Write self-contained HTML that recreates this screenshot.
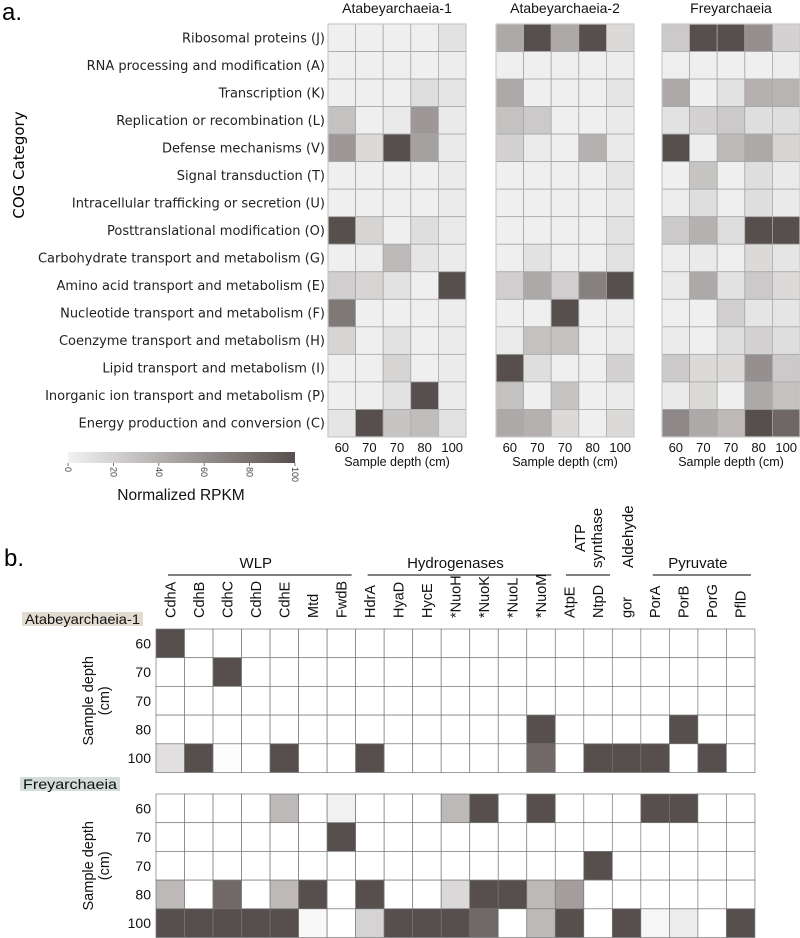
<!DOCTYPE html>
<html><head><meta charset="utf-8">
<style>
html,body{margin:0;padding:0;background:#fff;}
svg{display:block;font-family:"Liberation Sans",sans-serif;}
</style></head>
<body>
<svg id="fig" width="800" height="938" viewBox="0 0 800 938" xmlns="http://www.w3.org/2000/svg">
<text x="2" y="20" font-size="24">a.</text>
<text x="4" y="566" font-size="24">b.</text>
<text transform="translate(24,165) rotate(-90)" text-anchor="middle" font-size="15" font-family="DejaVu Sans, sans-serif">COG Category</text>
<g id="topg"></g>
<g id="cbar"></g>
<g id="bottom"></g>
</svg>
<script>
const categories = ["Ribosomal proteins (J)","RNA processing and modification (A)","Transcription (K)","Replication or recombination (L)","Defense mechanisms (V)","Signal transduction (T)","Intracellular trafficking or secretion (U)","Posttranslational modification (O)","Carbohydrate transport and metabolism (G)","Amino acid transport and metabolism (E)","Nucleotide transport and metabolism (F)","Coenzyme transport and metabolism (H)","Lipid transport and metabolism (I)","Inorganic ion transport and metabolism (P)","Energy production and conversion (C)"];
const depths = ["60","70","70","80","100"];
const genomes = ["Atabeyarchaeia-1","Atabeyarchaeia-2","Freyarchaeia"];
const atabey1 = [[2,2,2,2,10],[2,2,2,2,3],[2,2,2,12,8],[30,2,5,55,5],[55,15,100,50,5],[2,2,2,2,4],[2,2,2,2,4],[100,18,2,12,5],[2,3,35,8,4],[22,18,10,2,100],[75,2,2,2,3],[18,2,10,2,4],[2,2,18,2,4],[2,2,10,100,4],[8,100,28,32,10]];
const atabey2 = [[45,100,45,100,15],[2,2,2,2,3],[45,2,2,2,8],[30,25,2,2,5],[20,4,2,40,5],[2,2,2,2,8],[2,2,2,2,5],[2,2,2,2,10],[2,10,2,2,10],[22,45,22,70,100],[2,2,100,2,3],[4,30,30,2,4],[100,12,2,2,20],[30,2,28,2,4],[45,40,15,2,15]];
const freya = [[25,100,100,60,20],[2,2,2,2,3],[45,2,10,40,38],[10,20,25,12,12],[100,3,35,45,18],[2,28,2,12,5],[3,12,2,12,5],[25,40,12,100,100],[3,5,2,15,8],[5,45,10,25,15],[2,2,22,8,8],[4,2,12,20,12],[25,15,15,60,25],[5,15,2,45,30],[65,45,35,100,85]];
const colorTicks = [0,20,40,60,80,100];
const genes = ["CdhA","CdhB","CdhC","CdhD","CdhE","Mtd","FwdB","HdrA","HyaD","HycE","*NuoH","*NuoK","*NuoL","*NuoM","AtpE","NtpD","gor","PorA","PorB","PorG","PflD"];
const geneDepths = ["60","70","70","80","100"];
const atabeyGenes = [
 [100,0,0,0,0,0,0,0,0,0,0,0,0,0,0,0,0,0,0,0,0],
 [0,0,100,0,0,0,0,0,0,0,0,0,0,0,0,0,0,0,0,0,0],
 [0,0,0,0,0,0,0,0,0,0,0,0,0,0,0,0,0,0,0,0,0],
 [0,0,0,0,0,0,0,0,0,0,0,0,0,100,0,0,0,0,100,0,0],
 [18,100,1,0,100,0,0,100,0,0,0,0,0,85,0,100,100,100,0,100,0]];
const freyaGenes = [
 [0,0,0,0,40,0,8,0,0,0,40,100,0,100,0,0,0,100,100,0,0],
 [0,0,0,0,0,0,100,0,0,0,0,0,0,0,0,0,0,0,0,0,0],
 [0,0,0,0,0,0,0,0,0,0,0,0,0,0,0,100,0,0,0,0,0],
 [40,0,85,0,40,100,0,100,0,0,22,100,100,40,55,0,0,0,0,0,0],
 [100,100,100,100,100,4,0,25,100,100,100,85,0,40,100,0,100,5,10,0,100]];
const groups = [["WLP",0,6],["Hydrogenases",7,13],["Pyruvate",17,20]];

const NS="http://www.w3.org/2000/svg";
function mk(tag, attrs, parent, txt){const e=document.createElementNS(NS,tag);for(const k in attrs)e.setAttribute(k,attrs[k]);if(txt!==undefined)e.textContent=txt;parent.appendChild(e);return e;}
function lerp(a,b,t){return Math.round(a+(b-a)*t);}
function colTop(v){const t=Math.max(0,Math.min(1,v/100));return `rgb(${lerp(242,87,t)},${lerp(242,79,t)},${lerp(242,77,t)})`;}
function colBot(v){const t=Math.max(0,Math.min(1,v/100));return `rgb(${lerp(255,87,t)},${lerp(255,79,t)},${lerp(255,77,t)})`;}

// ---- Panel a
const topG=document.getElementById('topg');
const hmX=[328,496,662], hmW=138, hmY=24, rowH=27.53, colW=hmW/5;
const topData=[atabey1,atabey2,freya];
const yRow=i=>hmY+i*rowH;
categories.forEach((c,i)=>{
  const t=mk('text',{x:325,y:yRow(i)+rowH/2+4.5,'text-anchor':'end','font-size':13,'font-family':'DejaVu Sans, sans-serif',fill:'#222'},topG,c);
  
  
});
genomes.forEach((g,gi)=>{
  const x0=hmX[gi];
  const xCol=j=>x0+j*colW;
  const title=mk('text',{x:x0+hmW/2,y:13,'text-anchor':'middle','font-size':14,fill:'#111'},topG,g);
  
  
  topData[gi].forEach((row,i)=>row.forEach((v,j)=>{
    const r=mk('rect',{x:xCol(j),y:yRow(i),width:colW,height:rowH,fill:colTop(v),stroke:'#a8a8a8','stroke-width':0.8},topG);
    
    
  }));
  mk('rect',{x:x0,y:hmY,width:hmW,height:rowH*15,fill:'none',stroke:'#c8c8c8','stroke-width':1.2},topG);
  depths.forEach((d,j)=>{
    const t=mk('text',{x:xCol(j)+colW/2,y:452,'text-anchor':'middle','font-size':13,fill:'#111'},topG,d);
    
    
  });
  const xt=mk('text',{x:x0+hmW/2,y:466,'text-anchor':'middle','font-size':12.5,fill:'#111'},topG,'Sample depth (cm)');
  
  
});

// ---- colorbar
const cb=document.getElementById('cbar');
const defs=mk('defs',{},cb);
const lg=mk('linearGradient',{id:'cg',x1:0,x2:1,y1:0,y2:0},defs);
mk('stop',{offset:0,'stop-color':colTop(0)},lg);
mk('stop',{offset:1,'stop-color':colTop(100)},lg);
const cbX0=68,cbX1=295;
const cbr=mk('rect',{x:cbX0,y:452,width:cbX1-cbX0,height:11,fill:'url(#cg)'},cb);


colorTicks.forEach(v=>{
  const x=cbX0+(cbX1-cbX0)*v/100;
  mk('line',{x1:x,x2:x,y1:463,y2:466,stroke:'#555','stroke-width':0.8},cb);
  const t=mk('text',{transform:`translate(${x-3},467) rotate(90)`,'font-size':9,fill:'#444'},cb,String(v));
  
  
});
const cbt=mk('text',{x:181,y:500,'text-anchor':'middle','font-size':15.5,fill:'#111'},cb,'Normalized RPKM');



// ---- Panel b
const bot=document.getElementById('bottom');
const gX0=156, gW=28.52, gH=28.7;
const gx=j=>gX0+j*gW;
groups.forEach(([name,a,b])=>{
  const t=mk('text',{x:(gx(a)+gx(b+1))/2,y:568,'text-anchor':'middle','font-size':15,fill:'#111'},bot,name);
  
  
  mk('line',{x1:gx(a)+12,x2:gx(b+1)-4,y1:575,y2:575,stroke:'#555','stroke-width':1.6},bot);
});
mk('line',{x1:566,x2:610,y1:575,y2:575,stroke:'#555','stroke-width':1.6},bot);
[['ATP',585,552],['synthase',602,568],['Aldehyde',633,568]].forEach(([s,x,y])=>{
  const t=mk('text',{transform:`translate(${x},${y}) rotate(-90)`,'font-size':15,fill:'#111'},bot,s);
  
  
});
genes.forEach((g,j)=>{
  const t=mk('text',{transform:`translate(${gx(j)+gW/2+5},618) rotate(-90)`,'font-size':14.5,fill:'#111'},bot,g);
  
  
});
function geneGrid(data,y0,label,lx,lw,bg){
  const lr=mk('rect',{x:lx,y:y0-17,width:lw,height:14,fill:bg},bot);
  
  
  const lt=mk('text',{x:lx+3,y:y0-5,'font-size':14,fill:'#111',textLength:lw-6,lengthAdjust:'spacingAndGlyphs'},bot,label);
  
  
  const gy=i=>y0+i*gH;
  data.forEach((row,i)=>{
    row.forEach((v,j)=>{
      const r=mk('rect',{x:gx(j),y:gy(i),width:gW,height:gH,fill:colBot(v),stroke:'#777','stroke-width':0.7},bot);
      
      
    });
    const t=mk('text',{x:151,y:gy(i)+gH/2+5,'text-anchor':'end','font-size':14,fill:'#111'},bot,geneDepths[i]);
    
    
  });
  const cy=y0+gH*2.5;
  const ta=mk('text',{transform:`translate(93,${cy}) rotate(-90)`,'text-anchor':'middle','font-size':14.5,fill:'#111'},bot,'Sample depth');
  
  
  const tb=mk('text',{transform:`translate(109,${cy}) rotate(-90)`,'text-anchor':'middle','font-size':14.5,fill:'#111'},bot,'(cm)');
  
  
}
geneGrid(atabeyGenes,629,'Atabeyarchaeia-1',22,121,'#e2dbd0');
geneGrid(freyaGenes,794,'Freyarchaeia',20,100,'#d2dcda');
</script>
</body></html>
